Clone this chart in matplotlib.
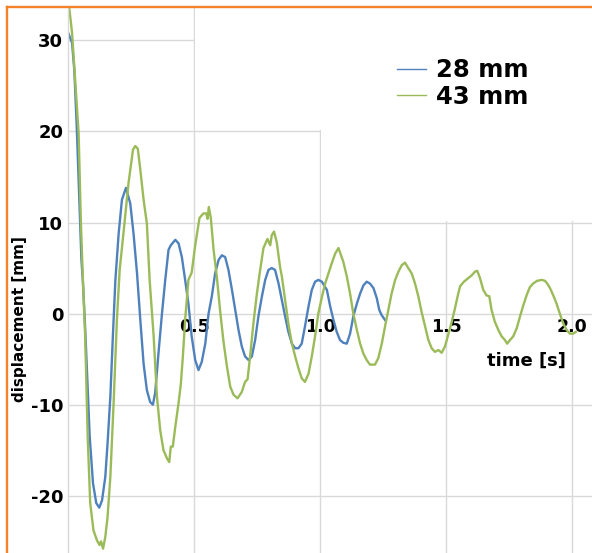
import matplotlib
matplotlib.use("Agg")
import matplotlib.pyplot as plt
from matplotlib.patches import Rectangle
from matplotlib.lines import Line2D

plt.rcParams["axes.unicode_minus"] = False

# 28 mm series (time [s], displacement [mm])
t_28 = [0.000, 0.015, 0.024, 0.033, 0.043, 0.052, 0.058, 0.066, 0.074, 0.085,
        0.098, 0.111, 0.123, 0.134, 0.147, 0.156, 0.167, 0.177, 0.187, 0.200,
        0.213, 0.229, 0.246, 0.259, 0.273, 0.286, 0.299, 0.312, 0.325, 0.336,
        0.345, 0.358, 0.372, 0.385, 0.398, 0.407, 0.425, 0.438, 0.451, 0.464,
        0.477, 0.490, 0.504, 0.517, 0.530, 0.544, 0.557, 0.570, 0.583, 0.597,
        0.610, 0.623, 0.636, 0.650, 0.663, 0.676, 0.689, 0.702, 0.716, 0.729,
        0.742, 0.755, 0.769, 0.782, 0.795, 0.808, 0.821, 0.835, 0.848, 0.861,
        0.874, 0.888, 0.901, 0.914, 0.927, 0.940, 0.954, 0.967, 0.980, 0.993,
        1.007, 1.027, 1.040, 1.053, 1.066, 1.079, 1.092, 1.106, 1.119, 1.132,
        1.146, 1.159, 1.172, 1.185, 1.198, 1.212, 1.225, 1.235, 1.245, 1.258]
d_28 = [30.8, 29.7, 26.7, 20.9, 13.1, 6.0, 3.5, -1.0, -6.2, -13.5,
        -18.6, -20.8, -21.3, -20.5, -17.9, -14.2, -9.1, -2.5, 3.7, 8.8,
        12.5, 13.8, 12.1, 8.8, 4.4, -0.7, -5.5, -8.4, -9.7, -10.0,
        -8.7, -4.4, 0.0, 3.7, 7.0, 7.5, 8.1, 7.7, 6.2, 3.7,
        1.1, -2.5, -5.1, -6.2, -5.3, -3.3, 0.0, 1.9, 4.4, 5.9,
        6.4, 6.2, 4.8, 2.6, 0.4, -1.8, -3.6, -4.7, -5.1, -4.7,
        -2.9, -0.3, 1.9, 3.7, 4.8, 5.0, 4.8, 3.3, 1.5, -0.3,
        -2.0, -3.3, -3.8, -3.8, -3.3, -1.4, 0.8, 2.6, 3.5, 3.7,
        3.5, 2.6, 0.8, -0.7, -2.0, -2.9, -3.2, -3.3, -2.2, -0.3,
        1.1, 2.2, 3.1, 3.5, 3.3, 2.8, 1.7, 0.4, -0.2, -0.7]

# 43 mm series
t_43 = [0.000, 0.015, 0.028, 0.041, 0.050, 0.058, 0.067, 0.077, 0.087, 0.100,
        0.114, 0.124, 0.130, 0.138, 0.147, 0.156, 0.167, 0.180, 0.193, 0.204,
        0.219, 0.239, 0.257, 0.266, 0.276, 0.286, 0.299, 0.312, 0.323, 0.339,
        0.352, 0.365, 0.378, 0.392, 0.401, 0.407, 0.415, 0.425, 0.438, 0.447,
        0.455, 0.464, 0.477, 0.490, 0.504, 0.521, 0.537, 0.548, 0.553, 0.558,
        0.566, 0.577, 0.590, 0.603, 0.616, 0.630, 0.643, 0.656, 0.672, 0.689,
        0.702, 0.712, 0.722, 0.735, 0.749, 0.762, 0.775, 0.791, 0.802, 0.808,
        0.817, 0.828, 0.841, 0.848, 0.861, 0.874, 0.888, 0.901, 0.914, 0.927,
        0.940, 0.954, 0.967, 0.980, 0.993, 1.007, 1.020, 1.033, 1.046, 1.060,
        1.073, 1.082, 1.092, 1.106, 1.119, 1.132, 1.146, 1.159, 1.172, 1.185,
        1.198, 1.218, 1.231, 1.245, 1.258, 1.271, 1.284, 1.298, 1.311, 1.324,
        1.337, 1.350, 1.364, 1.377, 1.390, 1.403, 1.417, 1.430, 1.443, 1.456,
        1.470, 1.483, 1.496, 1.509, 1.522, 1.535, 1.547, 1.556, 1.571, 1.580,
        1.589, 1.602, 1.615, 1.624, 1.635, 1.648, 1.661, 1.672, 1.681, 1.694,
        1.708, 1.721, 1.734, 1.743, 1.754, 1.767, 1.781, 1.794, 1.807, 1.820,
        1.833, 1.846, 1.862, 1.880, 1.893, 1.902, 1.913, 1.926, 1.939, 1.952,
        1.966, 1.979, 1.992, 2.005, 2.016]
d_43 = [34.5, 30.8, 25.3, 19.8, 10.0, 3.7, -2.5, -13.5, -20.8, -23.8,
        -24.9, -25.4, -25.0, -25.8, -24.5, -22.3, -17.9, -9.8, -0.7, 4.8,
        8.8, 14.3, 18.0, 18.4, 18.1, 15.8, 12.5, 9.9, 3.7, -2.5,
        -9.1, -12.8, -15.0, -15.9, -16.3, -14.6, -14.6, -12.4, -9.8, -7.7,
        -4.7, -0.7, 3.7, 4.5, 7.5, 10.5, 11.0, 11.0, 10.4, 11.7,
        10.5, 7.0, 4.0, 0.3, -3.0, -5.8, -8.0, -8.9, -9.3, -8.6,
        -7.5, -7.2, -4.7, -1.1, 2.2, 4.8, 7.2, 8.2, 7.5, 8.6,
        9.0, 7.8, 5.1, 4.1, 1.5, -1.1, -3.3, -4.7, -6.0, -7.1,
        -7.5, -6.6, -4.7, -2.5, 0.0, 1.8, 3.3, 4.4, 5.5, 6.6,
        7.2, 6.5, 5.7, 4.1, 2.2, 0.0, -1.8, -3.3, -4.4, -5.1,
        -5.6, -5.6, -4.9, -3.3, -1.4, 0.4, 2.2, 3.7, 4.6, 5.3,
        5.6, 5.0, 4.4, 3.3, 1.9, 0.2, -1.4, -2.9, -3.8, -4.2,
        -4.0, -4.3, -3.6, -2.3, -1.0, 0.5, 2.0, 3.0, 3.5, 3.7,
        3.9, 4.2, 4.6, 4.7, 3.9, 2.6, 2.0, 1.9, 0.4, -0.9,
        -1.8, -2.5, -2.9, -3.3, -2.9, -2.5, -1.6, -0.3, 0.9, 2.0,
        2.9, 3.3, 3.6, 3.7, 3.6, 3.3, 2.8, 2.0, 1.1, 0.0,
        -1.1, -1.8, -2.2, -2.2, -2.0]

labels = ["28 mm", "43 mm"]
x_ticks = [0.5, 1.0, 1.5, 2.0]
x_ticklabels = ["0.5", "1.0", "1.5", "2.0"]
y_ticks = [-20, -10, 0, 10, 20, 30]

blue = "#4f81bd"
green = "#9bbb59"
grid_col = "#d9d9d9"
orange = "#f58226"

W, H = 592, 553
fig = plt.figure(figsize=(W / 100, H / 100), dpi=100)
ax = fig.add_axes([68.3 / W, 0, 1 - 68.3 / W, (H - 7) / H])
ax.set_xlim(0, (W - 68.3) / 251.8)
ax.set_ylim(-(H - 313.6) / 9.11, (313.6 - 7) / 9.11)

ax.set_axisbelow(True)
ax.grid(True, color=grid_col, lw=1.0)

# white areas where the legend box hides the grid
ax.add_patch(Rectangle((0.505, 20.2), 2, 20, facecolor="white",
                       edgecolor="none", zorder=1))
ax.add_patch(Rectangle((1.005, 10.2), 2, 30, facecolor="white",
                       edgecolor="none", zorder=1))

ax.plot(t_28, d_28, color=blue, lw=1.7, zorder=2, label=labels[0])
ax.plot(t_43, d_43, color=green, lw=1.7, zorder=2, label=labels[1])

for s in ["top", "right"]:
    ax.spines[s].set_visible(False)
ax.spines["bottom"].set_position(("data", 0))
ax.spines["bottom"].set_visible(False)
ax.spines["left"].set_color(grid_col)
ax.spines["left"].set_linewidth(1.0)

ax.set_xticks(x_ticks)
ax.set_xticklabels(x_ticklabels)
ax.set_yticks(y_ticks)
ax.tick_params(axis="x", length=0, pad=3, labelsize=12.5)
ax.tick_params(axis="y", length=0, pad=3.6, labelsize=13)
for lab in ax.get_xticklabels() + ax.get_yticklabels():
    lab.set_fontweight("bold")

fig.text(20 / W, 1 - 319 / H, "displacement [mm]", rotation=90,
         ha="center", va="center", fontsize=11, fontweight="bold")
fig.text(526.7 / W, 1 - 361 / H, "time [s]", ha="center", va="center",
         fontsize=13, fontweight="bold")

leg = ax.legend(loc="center left", bbox_to_anchor=(397 / W, 1 - 83.5 / H),
                bbox_transform=fig.transFigure, frameon=False, borderpad=0,
                borderaxespad=0, handlelength=1.2, handletextpad=0.4,
                labelspacing=0.1, prop={"size": 17.5, "weight": "bold"})
for h in leg.get_lines():
    h.set_linewidth(1.0)

# orange frame (left and top visible)
fig.add_artist(Line2D([6.5 / W, 6.5 / W], [0, 1 - 6.8 / H], color=orange,
                      lw=1.7, transform=fig.transFigure))
fig.add_artist(Line2D([6.5 / W, 1], [1 - 6.8 / H, 1 - 6.8 / H], color=orange,
                      lw=1.7, transform=fig.transFigure))

fig.savefig("out.png", dpi=100)
plt.close(fig)
